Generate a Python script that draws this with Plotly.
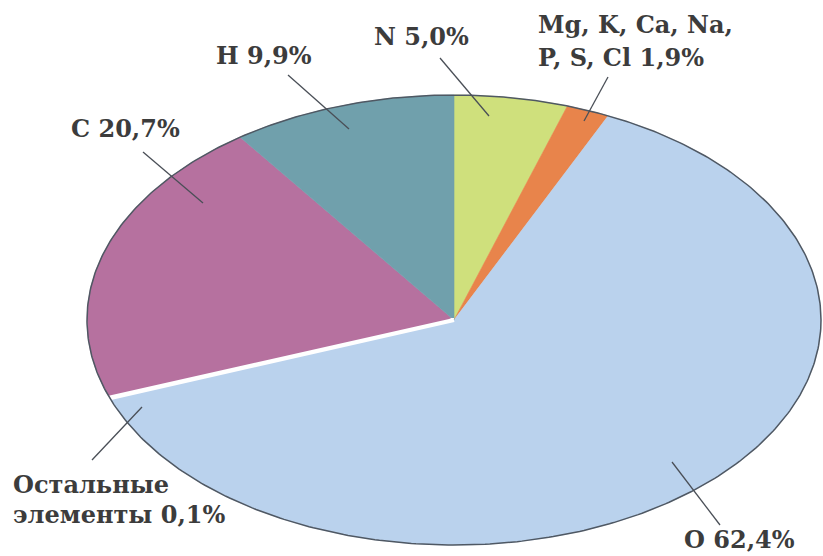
import numpy as np
import plotly.graph_objects as go

# ---- data ----
slice_names = ["N", "Mg, K, Ca, Na, P, S, Cl", "O", "Остальные элементы", "C", "H"]
slice_values = [5.0, 1.9, 62.4, 0.1, 20.7, 9.9]
slice_colors = ["#cfe07c", "#e8844b", "#bad2ed", "#ffffff", "#b6719f", "#70a0ac"]
label_lines = [
    ["N 5,0%"],
    ["Mg, K, Ca, Na,", "P, S, Cl 1,9%"],
    ["O 62,4%"],
    ["Остальные", "элементы 0,1%"],
    ["C 20,7%"],
    ["H 9,9%"],
]

# ---- layout constants (pixels) ----
W, H = 823, 556
CX, CY, RX, RY = 454, 320, 367, 225
# label anchor (left x, centre y of each line) in pixels
label_pos = [
    [(373, 36)],
    [(537, 25), (537, 57)],
    [(683, 539)],
    [(12, 484), (12, 514)],
    [(70, 128)],
    [(215, 55)],
]
leader = [
    ((440, 58), (489, 116)),
    ((608, 77), (584, 121)),
    ((672, 462), (720, 525)),
    ((92, 460), (142, 407)),
    ((143, 152), (203, 203)),
    ((288, 75), (349, 129)),
]

TEXT_COLOR = "#3c3c3c"
FONT = "DejaVu Serif"
FS = 24

fig = go.Figure()
total = float(sum(slice_values))

cum = 0.0
white_trace = None
for name, v, c in zip(slice_names, slice_values, slice_colors):
    t0 = np.pi / 2 - 2 * np.pi * cum / total
    t1 = np.pi / 2 - 2 * np.pi * (cum + v) / total
    cum += v
    n = max(int(abs(t1 - t0) / (np.pi / 360)), 3)
    t = np.linspace(t0, t1, n)
    xs = np.concatenate([[0.0], np.cos(t), [0.0]])
    ys = np.concatenate([[0.0], np.sin(t), [0.0]])
    tr = go.Scatter(
        x=xs, y=ys, mode="lines", fill="toself", fillcolor=c,
        line=dict(color=c, width=0.6 if c != "#ffffff" else 4),
        name=name, hoverinfo="name", showlegend=False,
    )
    if c == "#ffffff":
        white_trace = tr
    else:
        fig.add_trace(tr)
if white_trace is not None:
    fig.add_trace(white_trace)

# outer ellipse outline
tt = np.linspace(0, 2 * np.pi, 500)
fig.add_trace(go.Scatter(x=np.cos(tt), y=np.sin(tt), mode="lines",
                         line=dict(color="#4f5863", width=1.5),
                         hoverinfo="skip", showlegend=False))


def px(x, y):
    return x / W, 1 - y / H


annotations = []
for lines, poss in zip(label_lines, label_pos):
    for txt, (lx, ly) in zip(lines, poss):
        ax_, ay_ = px(lx, ly)
        annotations.append(dict(
            x=ax_, y=ay_, xref="paper", yref="paper", text="<b>" + txt + "</b>",
            showarrow=False, xanchor="left", yanchor="middle", borderpad=0,
            font=dict(family=FONT, size=FS, color=TEXT_COLOR),
        ))

shapes = []
for (p0, p1) in leader:
    x0, y0 = px(*p0)
    x1, y1 = px(*p1)
    shapes.append(dict(type="line", xref="paper", yref="paper",
                       x0=x0, y0=y0, x1=x1, y1=y1,
                       line=dict(color="#4a4f57", width=1.3)))

fig.update_layout(
    width=W, height=H,
    margin=dict(l=0, r=0, t=0, b=0),
    paper_bgcolor="white", plot_bgcolor="white",
    xaxis=dict(range=[-CX / RX, (W - CX) / RX], visible=False, fixedrange=True),
    yaxis=dict(range=[-(H - CY) / RY, CY / RY], visible=False, fixedrange=True),
    annotations=annotations, shapes=shapes, showlegend=False,
)

fig.write_html("out.html")
